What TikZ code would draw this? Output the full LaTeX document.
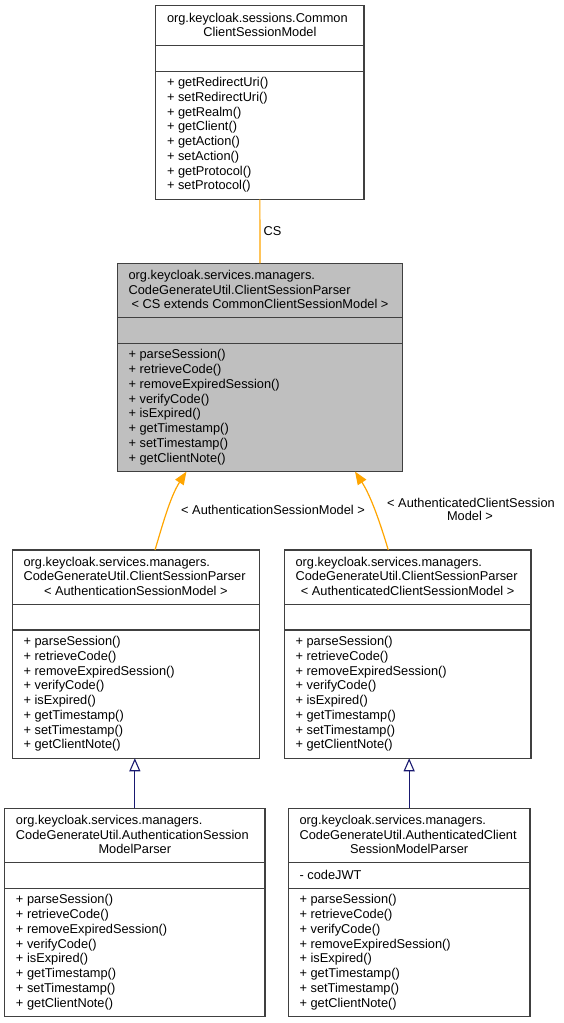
\documentclass[tikz,border=0pt]{standalone}
\usepackage{fontspec}
\setmainfont{Liberation Sans}
\usetikzlibrary{arrows.meta}
\definecolor{boxgray}{HTML}{BFBFBF}
\definecolor{edgeorange}{HTML}{FFA500}
\definecolor{edgenavy}{HTML}{191970}
\definecolor{bordercol}{HTML}{404040}
\tikzset{
  txt/.style={inner sep=0pt, outer sep=0pt, font=\fontsize{12.8}{14.75}\selectfont, text=black},
  classbox/.style={draw=bordercol, line width=1.2pt, anchor=north west, inner sep=0pt, outer sep=0pt},
  divline/.style={draw=bordercol, line width=1.2pt},
  dep/.style={draw=edgeorange, line width=1.2pt, -{Triangle[length=13pt,width=10pt]}},
  inh/.style={draw=edgenavy, line width=1.1pt, -{Triangle[length=13pt,width=11pt,fill=white]}},
}
\newcommand\methodlist[3]{%
  \foreach \m [count=\i from 0] in {#3}
    \node[txt, anchor=base west] at ([xshift=11.3pt, yshift={-(#2+\i*14.75)*1pt}]#1.north west) {\m};}
\newcommand\dividers[2]{%
  \draw[divline] ([yshift=-#2pt]#1.north west) -- ([yshift=-#2pt]#1.north east);
  \draw[divline] ([yshift={-(#2+25.5)*1pt}]#1.north west) -- ([yshift={-(#2+25.5)*1pt}]#1.north east);}
\newcommand\titleleft[3]{%
  \node[txt, anchor=base west] at ([xshift=11.3pt, yshift=-#2pt]#1.north west) {#3};}
\newcommand\titlecenter[3]{%
  \node[txt, anchor=base] at ([yshift=-#2pt]#1.north) {#3};}
\begin{document}
\begin{tikzpicture}[x=1pt,y=-1pt]
\useasboundingbox (0,0) rectangle (564,1023);

% boxes
\node[classbox, fill=white, minimum width=208.3pt, minimum height=193.75pt] (b1) at (155.7,5.7) {};
\node[classbox, fill=boxgray, minimum width=285.4pt, minimum height=208.25pt] (b2) at (117.3,263.3) {};
\node[classbox, fill=white, minimum width=247pt, minimum height=208.25pt] (b3) at (12.3,550) {};
\node[classbox, fill=white, minimum width=246.7pt, minimum height=208.25pt] (b4) at (284.3,550) {};
\node[classbox, fill=white, minimum width=260.3pt, minimum height=208.25pt] (b5) at (4.7,808.3) {};
\node[classbox, fill=white, minimum width=241.7pt, minimum height=208.25pt] (b6) at (288.3,808.3) {};

% b1
\dividers{b1}{40}
\titleleft{b1}{16.3}{org.keycloak.sessions.Common}
\titlecenter{b1}{30.8}{ClientSessionModel}
\methodlist{b1}{81}{+ getRedirectUri(),+ setRedirectUri(),+ getRealm(),+ getClient(),+ getAction(),+ setAction(),+ getProtocol(),+ setProtocol()}

% b2
\dividers{b2}{54.5}
\titleleft{b2}{16.3}{org.keycloak.services.managers.}
\titleleft{b2}{30.8}{CodeGenerateUtil.ClientSessionParser}
\titlecenter{b2}{45.3}{< CS extends CommonClientSessionModel >}
\methodlist{b2}{95.5}{+ parseSession(),+ retrieveCode(),+ removeExpiredSession(),+ verifyCode(),+ isExpired(),+ getTimestamp(),+ setTimestamp(),+ getClientNote()}

% b3
\dividers{b3}{54.5}
\titleleft{b3}{16.3}{org.keycloak.services.managers.}
\titleleft{b3}{30.8}{CodeGenerateUtil.ClientSessionParser}
\titlecenter{b3}{45.3}{< AuthenticationSessionModel >}
\methodlist{b3}{95.5}{+ parseSession(),+ retrieveCode(),+ removeExpiredSession(),+ verifyCode(),+ isExpired(),+ getTimestamp(),+ setTimestamp(),+ getClientNote()}

% b4
\dividers{b4}{54.5}
\titleleft{b4}{16.3}{org.keycloak.services.managers.}
\titleleft{b4}{30.8}{CodeGenerateUtil.ClientSessionParser}
\titlecenter{b4}{45.3}{< AuthenticatedClientSessionModel >}
\methodlist{b4}{95.5}{+ parseSession(),+ retrieveCode(),+ removeExpiredSession(),+ verifyCode(),+ isExpired(),+ getTimestamp(),+ setTimestamp(),+ getClientNote()}

% b5
\dividers{b5}{54.5}
\titleleft{b5}{16.3}{org.keycloak.services.managers.}
\titleleft{b5}{30.8}{CodeGenerateUtil.AuthenticationSession}
\titlecenter{b5}{45.3}{ModelParser}
\methodlist{b5}{95.5}{+ parseSession(),+ retrieveCode(),+ removeExpiredSession(),+ verifyCode(),+ isExpired(),+ getTimestamp(),+ setTimestamp(),+ getClientNote()}

% b6
\dividers{b6}{54.5}
\titleleft{b6}{16.3}{org.keycloak.services.managers.}
\titleleft{b6}{30.8}{CodeGenerateUtil.AuthenticatedClient}
\titlecenter{b6}{45.3}{SessionModelParser}
\titleleft{b6}{71}{- codeJWT}
\methodlist{b6}{95.5}{+ parseSession(),+ retrieveCode(),+ verifyCode(),+ removeExpiredSession(),+ isExpired(),+ getTimestamp(),+ setTimestamp(),+ getClientNote()}

% connectors
\draw[draw=edgeorange, line width=1.2pt] (b1.south) -- node[txt, anchor=west, xshift=3.7pt] (lcs) {CS} (b2.north);
\draw[dep] ([xshift=19.2pt]b3.north) .. controls +(7.5,-25) and +(-16.25,25) .. ([xshift=-73.5pt]b2.south);
\draw[dep] ([xshift=-19.35pt]b4.north) .. controls +(-7.5,-25) and +(16.25,25) .. ([xshift=95pt]b2.south);
\node[txt, anchor=base] (l1) at (273,514) {< AuthenticationSessionModel >};
\node[txt, anchor=base] (l2a) at (471,507) {< AuthenticatedClientSession};
\node[txt, anchor=base] (l2b) at (470,520.5) {Model >};
\draw[inh] (b5.north) -- (b5.north |- b3.south);
\draw[inh] (b6.north) -- (b6.north |- b4.south);
\end{tikzpicture}
\end{document}
